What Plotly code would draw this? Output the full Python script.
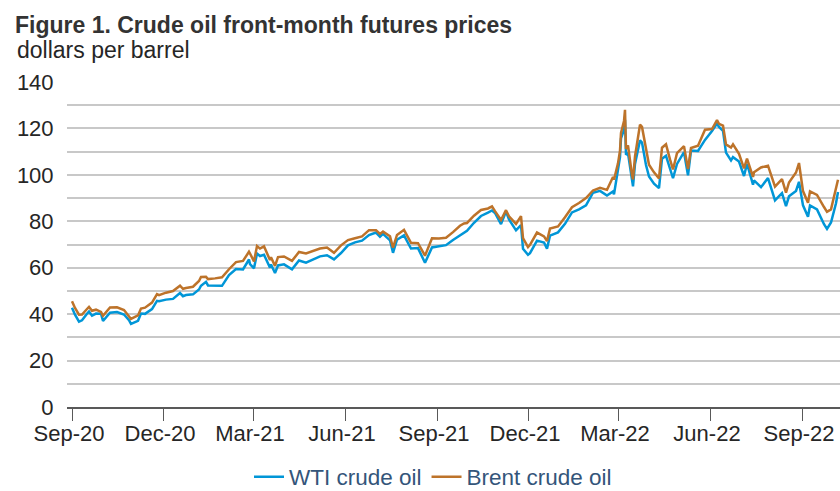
import plotly.graph_objects as go

dates = [
    "2020-09-01","2020-09-04","2020-09-08","2020-09-11","2020-09-16","2020-09-18","2020-09-21","2020-09-25","2020-09-30",
    "2020-10-02","2020-10-09","2020-10-16","2020-10-23","2020-10-28","2020-10-30","2020-11-06","2020-11-09","2020-11-13",
    "2020-11-20","2020-11-25","2020-11-27","2020-12-04","2020-12-11","2020-12-18","2020-12-21","2020-12-24","2020-12-31",
    "2021-01-06","2021-01-08","2021-01-13","2021-01-15","2021-01-22","2021-01-29","2021-02-05","2021-02-12","2021-02-19",
    "2021-02-25","2021-02-26","2021-03-02","2021-03-05","2021-03-08","2021-03-12","2021-03-18","2021-03-19","2021-03-23",
    "2021-03-26","2021-04-01","2021-04-09","2021-04-16","2021-04-23","2021-04-30","2021-05-07","2021-05-14","2021-05-21",
    "2021-05-28","2021-06-04","2021-06-11","2021-06-18","2021-06-25","2021-07-02","2021-07-06","2021-07-09","2021-07-16",
    "2021-07-19","2021-07-23","2021-07-30","2021-08-06","2021-08-13","2021-08-20","2021-08-27","2021-09-03","2021-09-10",
    "2021-09-17","2021-09-24","2021-09-28","2021-10-01","2021-10-08","2021-10-15","2021-10-22","2021-10-26","2021-10-29",
    "2021-11-04","2021-11-09","2021-11-12","2021-11-19","2021-11-24","2021-11-26","2021-12-01","2021-12-03","2021-12-10",
    "2021-12-17","2021-12-20","2021-12-23","2021-12-31","2022-01-07","2022-01-14","2022-01-21","2022-01-28","2022-02-04",
    "2022-02-11","2022-02-18","2022-02-24","2022-02-25","2022-03-01","2022-03-03","2022-03-04","2022-03-07","2022-03-08",
    "2022-03-09","2022-03-11","2022-03-15","2022-03-16","2022-03-18","2022-03-23","2022-03-25","2022-03-29","2022-04-01",
    "2022-04-06","2022-04-11","2022-04-14","2022-04-18","2022-04-22","2022-04-25","2022-04-29","2022-05-06","2022-05-10",
    "2022-05-13","2022-05-20","2022-05-27","2022-06-03","2022-06-08","2022-06-10","2022-06-14","2022-06-17","2022-06-22",
    "2022-06-24","2022-06-30","2022-07-05","2022-07-08","2022-07-14","2022-07-15","2022-07-22","2022-07-29","2022-08-05",
    "2022-08-12","2022-08-16","2022-08-19","2022-08-26","2022-08-29","2022-09-02","2022-09-07","2022-09-09","2022-09-16",
    "2022-09-23","2022-09-26","2022-09-30","2022-10-05","2022-10-07",
]

wti = [
    42.76, 39.77, 36.76, 37.33, 40.16, 41.11, 39.31, 40.25, 40.22,
    37.05, 40.60, 40.88, 39.85, 37.39, 35.79, 37.14, 40.29, 40.13,
    42.15, 45.71, 45.53, 46.26, 46.57, 49.10, 47.74, 48.23, 48.52,
    50.63, 52.24, 53.91, 52.36, 52.27, 52.20, 56.85, 59.47, 59.24,
    63.53, 61.50, 59.75, 66.09, 65.05, 65.61, 60.00, 61.42, 57.76,
    60.97, 61.45, 59.32, 63.13, 62.14, 63.58, 64.90, 65.37, 63.58,
    66.32, 69.62, 70.91, 71.64, 74.05, 75.16, 73.37, 74.56, 71.81,
    66.42, 72.07, 73.95, 68.28, 68.44, 62.14, 68.74, 69.29, 69.72,
    71.97, 73.98, 75.29, 75.88, 79.35, 82.28, 83.76, 84.65, 83.57,
    78.81, 84.15, 80.79, 76.10, 78.39, 68.15, 65.57, 66.26, 71.67,
    70.86, 68.23, 73.79, 75.21, 78.90, 83.82, 85.14, 86.82, 92.31,
    93.10, 91.07, 92.81, 91.59, 103.41, 107.67, 115.68, 119.40, 123.70,
    108.70, 109.33, 96.44, 95.04, 104.70, 114.93, 113.90, 104.24, 99.27,
    96.23, 94.29, 106.95, 108.21, 102.07, 98.54, 104.69, 109.77, 99.76,
    110.49, 110.28, 115.07, 118.87, 122.11, 120.67, 118.93, 109.56, 106.19,
    107.62, 105.76, 99.50, 104.79, 95.78, 97.59, 94.70, 98.62, 89.01,
    92.09, 86.53, 90.77, 93.06, 97.01, 86.87, 81.94, 86.79, 85.11,
    78.74, 76.71, 79.49, 87.76, 92.64,
]

brent = [
    45.58, 42.66, 39.78, 39.83, 42.22, 43.15, 41.44, 41.92, 40.95,
    39.27, 42.85, 42.93, 41.77, 39.12, 37.94, 39.45, 42.40, 42.78,
    44.96, 48.61, 48.18, 49.25, 49.97, 52.26, 50.91, 51.29, 51.80,
    54.30, 55.99, 56.06, 55.10, 55.41, 55.88, 59.34, 62.43, 62.91,
    66.88, 66.13, 62.70, 69.36, 68.24, 69.22, 63.28, 64.53, 60.79,
    64.57, 64.86, 62.95, 66.77, 66.11, 67.25, 68.28, 68.71, 66.44,
    69.63, 71.89, 72.69, 73.51, 76.18, 76.17, 74.53, 75.55, 73.59,
    68.62, 74.10, 76.33, 70.70, 70.59, 65.18, 72.70, 72.61, 72.92,
    75.34, 78.09, 79.09, 79.28, 82.39, 84.86, 85.53, 86.40, 84.38,
    80.54, 84.78, 82.17, 78.89, 82.25, 72.72, 68.87, 69.88, 75.15,
    73.52, 71.52, 76.85, 77.78, 81.75, 86.06, 87.89, 90.03, 93.27,
    94.44, 93.54, 99.08, 97.93, 104.97, 110.46, 118.11, 123.21, 127.98,
    111.14, 112.67, 99.91, 98.02, 107.93, 121.60, 120.65, 110.23, 104.39,
    101.07, 98.48, 111.70, 113.16, 106.65, 102.32, 109.34, 112.39, 102.46,
    111.55, 112.55, 119.43, 119.72, 123.58, 122.01, 121.17, 113.12, 111.74,
    113.12, 109.03, 102.77, 107.02, 99.10, 101.16, 103.20, 103.97, 94.92,
    98.15, 92.34, 96.72, 100.99, 105.09, 93.02, 88.00, 92.84, 91.35,
    86.15, 84.06, 85.14, 93.37, 97.92,
]

y_tickvals = [0, 10, 20, 30, 40, 50, 60, 70, 80, 90, 100, 110, 120, 130, 140]
y_ticktext = ["0", "", "20", "", "40", "", "60", "", "80", "", "100", "", "120", "", "140"]

series_names = ["WTI crude oil", "Brent crude oil"]
series_colors = ["#0096d7", "#bd732a"]

FONT = "Liberation Sans, Arial, sans-serif"

W, H = 840, 491
L, T, PW, PH = 67, 82, 773, 325


def px_x(sx):
    return (sx - L) / PW


def px_y(sy):
    return (T + PH - sy) / PH


fig = go.Figure()
for name, vals, col in zip(series_names, [wti, brent], series_colors):
    fig.add_trace(go.Scatter(x=dates, y=vals, mode="lines", name=name,
                             line=dict(color=col, width=2.5)))

fig.update_layout(
    width=W, height=H,
    margin=dict(l=L, r=0, t=T, b=H - T - PH, autoexpand=False),
    paper_bgcolor="white", plot_bgcolor="white",
    font=dict(family=FONT, size=22, color="#262626"),
    legend=dict(orientation="h", x=px_x(433), xanchor="center",
                y=px_y(477), yanchor="middle",
                font=dict(size=22.5, color="#34557a"), itemwidth=30,
                bgcolor="rgba(0,0,0,0)"),
    annotations=[
        dict(text="<b>Figure 1. Crude oil front-month futures prices</b>",
             xref="paper", yref="paper", align="left",
             x=px_x(13), y=px_y(25), xanchor="left", yanchor="middle",
             showarrow=False, font=dict(size=23, color="#333333")),
        dict(text="dollars per barrel", xref="paper", yref="paper", align="left",
             x=px_x(15), y=px_y(50), xanchor="left", yanchor="middle",
             showarrow=False, font=dict(size=23, color="#262626")),
    ],
)

fig.update_xaxes(type="date", range=["2020-08-27", "2022-10-09"],
                 tick0="2020-09-01", dtick="M3", tickformat="%b-%y",
                 ticks="outside", ticklen=12, tickwidth=1.3, tickcolor="#595959",
                 ticklabelstandoff=-6, ticklabelshift=-3,
                 showline=True, linecolor="#595959", linewidth=1.5,
                 showgrid=False, zeroline=False, automargin=False,
                 tickfont=dict(size=22, color="#262626"))
fig.update_yaxes(range=[0, 140], tickvals=y_tickvals, ticktext=y_ticktext,
                 ticks="outside", ticklen=8, tickcolor="rgba(0,0,0,0)",
                 showgrid=True, gridcolor="#c8c8c8", gridwidth=1.5,
                 zeroline=False, showline=False, automargin=False,
                 tickfont=dict(size=22, color="#262626"))

fig.write_html(
    "out.html",
    config={"displayModeBar": False},
    post_script="document.documentElement.style.overflow='hidden';"
                "document.body.style.margin='0';document.body.style.overflow='hidden';",
)
